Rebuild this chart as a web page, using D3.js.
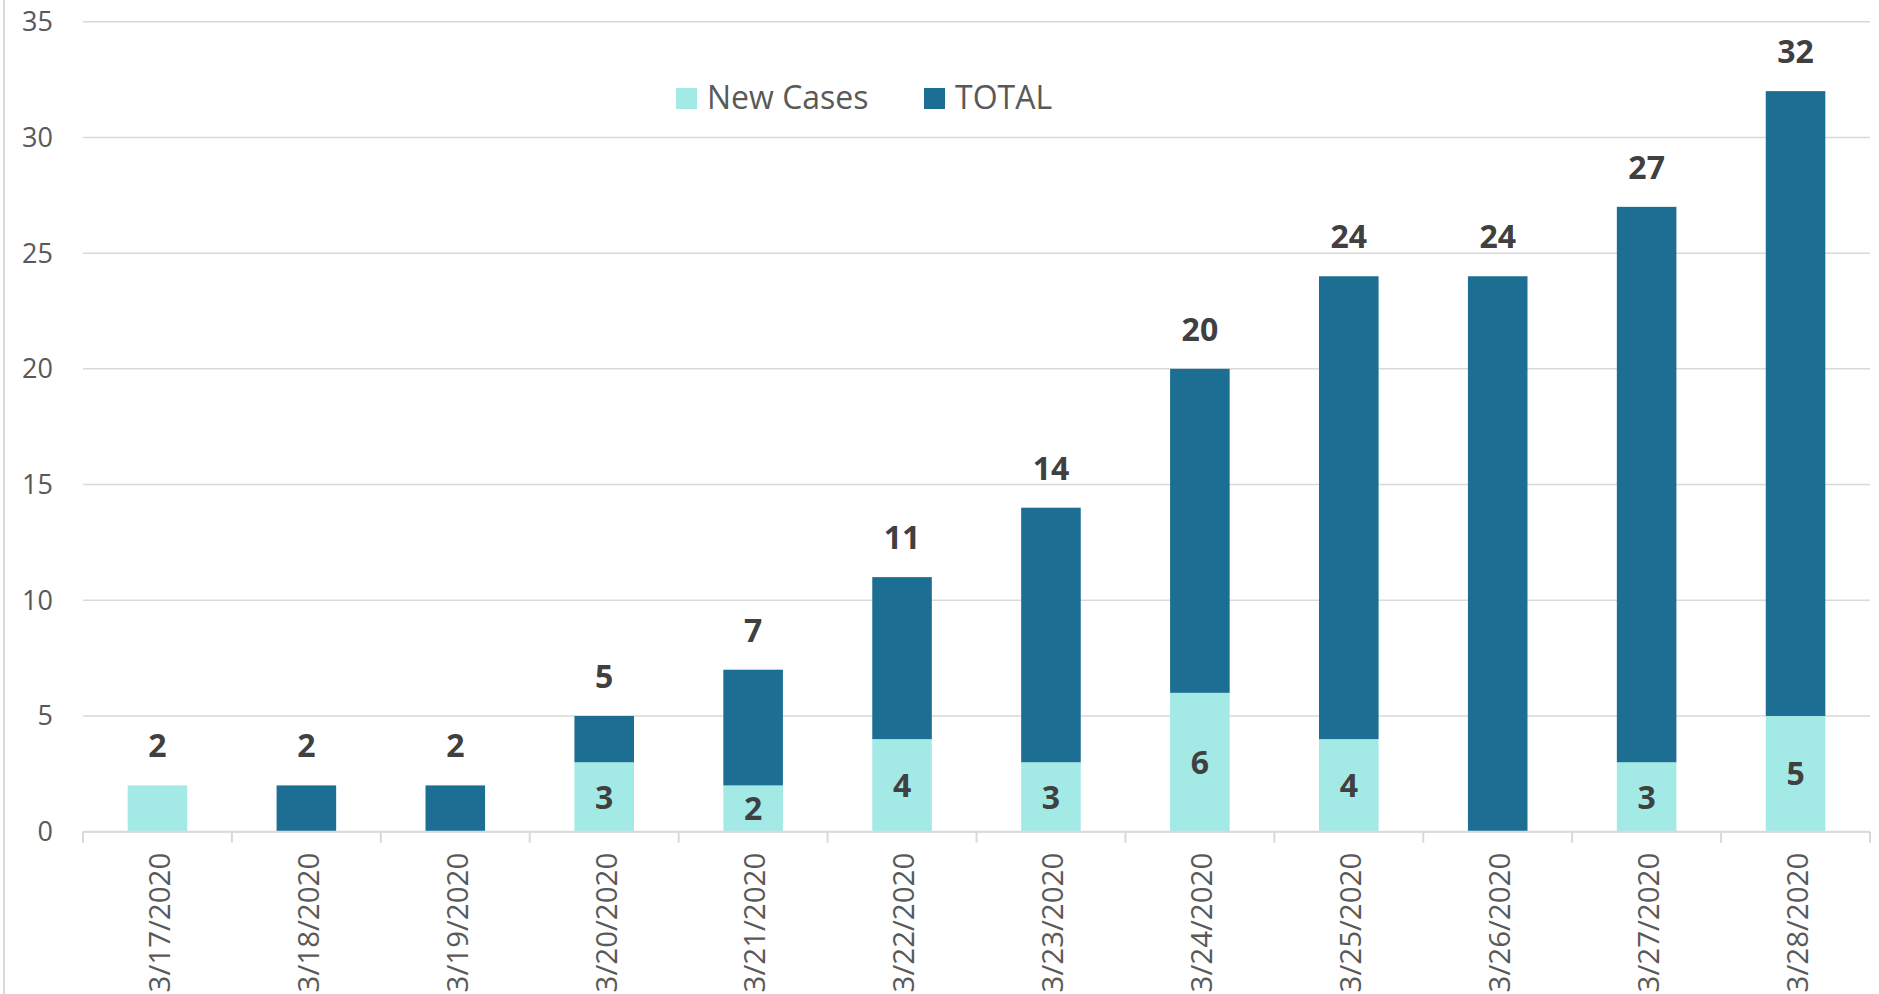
<!DOCTYPE html>
<html>
<head>
<meta charset="utf-8">
<script src="https://cdn.jsdelivr.net/npm/d3@7"></script>
<style>
    body { margin: 0; background: #fff; }
    svg { display: block; font-family: "Open Sans", sans-serif; }
</style>
</head>
<body>
<script>
// data
const dates = ['3/17/2020', '3/18/2020', '3/19/2020', '3/20/2020', '3/21/2020', '3/22/2020',
    '3/23/2020', '3/24/2020', '3/25/2020', '3/26/2020', '3/27/2020', '3/28/2020'];
const newCases = [2, 0, 0, 3, 2, 4, 3, 6, 4, 0, 3, 5];
const totalSeg = [0, 2, 2, 2, 5, 7, 11, 14, 20, 24, 24, 27]; // previous total, stacked on top
const seriesNames = ['New Cases', 'TOTAL'];
const yTicks = [0, 5, 10, 15, 20, 25, 30, 35];

const width = 1879;
const height = 994;
const margin = { top: 21.7, right: 9, bottom: 162.3, left: 83 };
const colors = { 'New Cases': '#a3eae6', 'TOTAL': '#1c6e93' };
const gridColor = '#d9d9d9';
const textColor = '#595959';
const labelColor = '#404040';

const svg = d3.select('body').append('svg')
    .attr('width', width)
    .attr('height', height);

// chart area border on the left
svg.append('line')
    .attr('x1', 4).attr('x2', 4)
    .attr('y1', 0).attr('y2', height)
    .style('stroke', gridColor)
    .style('stroke-width', 2);

const x = d3.scaleBand()
    .domain(dates)
    .range([margin.left, width - margin.right])
    .paddingInner(0.6)
    .paddingOuter(0.3);

const y = d3.scaleLinear()
    .domain([0, 35])
    .range([height - margin.bottom, margin.top]);

// gridlines + y labels
svg.selectAll('line.grid')
    .data(yTicks)
    .enter()
    .append('line')
    .classed('grid', true)
    .attr('x1', margin.left)
    .attr('x2', width - margin.right)
    .attr('y1', d => y(d))
    .attr('y2', d => y(d))
    .style('stroke', gridColor)
    .style('stroke-width', 1.5);

svg.selectAll('text.ytick')
    .data(yTicks)
    .enter()
    .append('text')
    .classed('ytick', true)
    .attr('x', 53)
    .attr('y', d => y(d))
    .attr('dy', '0.35em')
    .attr('text-anchor', 'end')
    .style('font-size', '27px')
    .style('fill', textColor)
    .text(d => d);

// stacked bars
const rows = dates.map((d, i) => ({ date: d, 'New Cases': newCases[i], 'TOTAL': totalSeg[i] }));
const stack = d3.stack().keys(seriesNames)(rows);

svg.selectAll('g.series')
    .data(stack)
    .enter()
    .append('g')
    .classed('series', true)
    .style('fill', s => colors[s.key])
    .selectAll('rect')
    .data(s => s.filter(p => p[1] > p[0]))
    .enter()
    .append('rect')
    .attr('x', p => x(p.data.date))
    .attr('width', x.bandwidth())
    .attr('y', p => y(p[1]))
    .attr('height', p => y(p[0]) - y(p[1]));

// x axis line with category ticks
const x0 = margin.left;
const tickXs = d3.range(dates.length + 1).map(i => x0 + i * (width - margin.right - x0) / dates.length);

svg.append('line')
    .attr('x1', margin.left)
    .attr('x2', width - margin.right)
    .attr('y1', y(0))
    .attr('y2', y(0))
    .style('stroke', gridColor)
    .style('stroke-width', 2);

svg.selectAll('line.xtick')
    .data(tickXs)
    .enter()
    .append('line')
    .classed('xtick', true)
    .attr('x1', d => d).attr('x2', d => d)
    .attr('y1', y(0)).attr('y2', y(0) + 11)
    .style('stroke', gridColor)
    .style('stroke-width', 2);

svg.selectAll('text.xlabel')
    .data(dates)
    .enter()
    .append('text')
    .classed('xlabel', true)
    .attr('transform', d => `translate(${x(d) + x.bandwidth() / 2 + 2}, ${y(0) + 21}) rotate(-90)`)
    .attr('dy', '0.35em')
    .attr('text-anchor', 'end')
    .style('font-size', '29.5px')
    .style('fill', textColor)
    .text(d => d);

// total labels on top of each stack
svg.selectAll('text.total')
    .data(rows)
    .enter()
    .append('text')
    .classed('total', true)
    .attr('x', d => x(d.date) + x.bandwidth() / 2)
    .attr('y', d => y(d['New Cases'] + d['TOTAL']) - 28)
    .attr('text-anchor', 'middle')
    .style('font-size', '32px')
    .style('font-weight', 'bold')
    .style('fill', labelColor)
    .text(d => d['New Cases'] + d['TOTAL']);

// new case labels inside the light segment
svg.selectAll('text.newcase')
    .data(rows.filter(d => d['New Cases'] > 0 && d['TOTAL'] > 0))
    .enter()
    .append('text')
    .classed('newcase', true)
    .attr('x', d => x(d.date) + x.bandwidth() / 2)
    .attr('y', d => y(d['New Cases'] / 2))
    .attr('dy', '0.36em')
    .attr('text-anchor', 'middle')
    .style('font-size', '32px')
    .style('font-weight', 'bold')
    .style('fill', labelColor)
    .text(d => d['New Cases']);

// legend
const legendX = [676, 924];
const legend = svg.selectAll('g.legend')
    .data(seriesNames)
    .enter()
    .append('g')
    .classed('legend', true)
    .attr('transform', (d, i) => `translate(${legendX[i]}, 88)`);

legend.append('rect')
    .attr('width', 21)
    .attr('height', 21)
    .style('fill', d => colors[d]);

legend.append('text')
    .attr('x', 31)
    .attr('y', 21)
    .style('font-size', '32px')
    .style('fill', textColor)
    .text(d => d);
</script>
</body>
</html>
